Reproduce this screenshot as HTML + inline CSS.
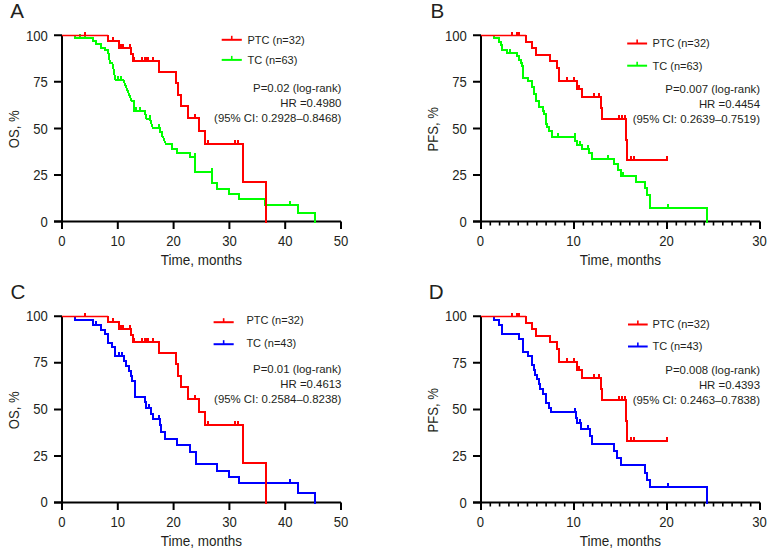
<!DOCTYPE html>
<html><head><meta charset="utf-8"><title>Kaplan-Meier curves</title>
<style>
html,body{margin:0;padding:0;background:#fff;}
body{width:775px;height:552px;overflow:hidden;position:relative;}
svg{position:absolute;left:0;top:0;}
text{font-family:"Liberation Sans",sans-serif;fill:#231f20;}
</style></head><body>
<svg width="775" height="552" viewBox="0 0 775 552">
<path d="M62 35.3V221.5M54 221.5H341" stroke="#000" stroke-width="2.0" fill="none" stroke-linecap="butt"/>
<path d="M54 35.3H62M54 81.85H62M54 128.39999999999998H62M54 174.95H62M54 221.5H62M62.0 221.5V229.0M117.8 221.5V229.0M173.6 221.5V229.0M229.4 221.5V229.0M285.2 221.5V229.0M341.0 221.5V229.0" stroke="#000" stroke-width="2.0" fill="none"/>
<text transform="translate(47.8 40.8) scale(0.95 1)" font-size="13.8" text-anchor="end" >100</text>
<text transform="translate(47.8 87.35) scale(0.95 1)" font-size="13.8" text-anchor="end" >75</text>
<text transform="translate(47.8 133.9) scale(0.95 1)" font-size="13.8" text-anchor="end" >50</text>
<text transform="translate(47.8 180.45) scale(0.95 1)" font-size="13.8" text-anchor="end" >25</text>
<text transform="translate(47.8 227.0) scale(0.95 1)" font-size="13.8" text-anchor="end" >0</text>
<text transform="translate(62.0 246.3) scale(0.95 1)" font-size="13.8" text-anchor="middle" >0</text>
<text transform="translate(117.8 246.3) scale(0.95 1)" font-size="13.8" text-anchor="middle" >10</text>
<text transform="translate(173.6 246.3) scale(0.95 1)" font-size="13.8" text-anchor="middle" >20</text>
<text transform="translate(229.4 246.3) scale(0.95 1)" font-size="13.8" text-anchor="middle" >30</text>
<text transform="translate(285.2 246.3) scale(0.95 1)" font-size="13.8" text-anchor="middle" >40</text>
<text transform="translate(341.0 246.3) scale(0.95 1)" font-size="13.8" text-anchor="middle" >50</text>
<text transform="translate(201.5 264.5) scale(0.964 1)" font-size="14" text-anchor="middle" >Time, months</text>
<text x="0" y="0" font-size="14.4" text-anchor="middle" transform="translate(18.5 129.3) rotate(-90) scale(0.91 1)">OS, %</text>
<text x="10.3" y="17.7" font-size="20.6" text-anchor="start" fill="#000">A</text>
<path d="M221.7 39.8H241.8" stroke="#ff0000" stroke-width="2" fill="none"/>
<path d="M221.7 59.9H241.8" stroke="#00ff00" stroke-width="2" fill="none"/>
<path d="M231.75 39.8V35.8" stroke="#ff0000" stroke-width="1.6" fill="none"/>
<path d="M231.75 59.9V55.9" stroke="#00ff00" stroke-width="1.6" fill="none"/>
<text x="247.5" y="43.599999999999994" font-size="11" text-anchor="start" >PTC (n=32)</text>
<text x="247.5" y="64.1" font-size="11" text-anchor="start" >TC (n=63)</text>
<text transform="translate(341.4 92.0) scale(0.966 1)" font-size="11.8" text-anchor="end" >P=0.02 (log-rank)</text>
<text transform="translate(341.4 106.95) scale(0.966 1)" font-size="11.8" text-anchor="end" >HR =0.4980</text>
<text transform="translate(341.4 122.4) scale(0.966 1)" font-size="11.8" text-anchor="end" >(95% CI: 0.2928–0.8468)</text>
<path d="M74.5 35.5V38.2H92.9V41.2H95.8V44.4H101.0V47.5H105.0V50.3H108.0L110.0 62.7H112.3L115.5 80.0H123.3L131.7 100.8H134.4V111.2H144.8L146.5 119.0H150.0L152.7 127.6H160.3V131.6H161.6V136.1H162.6L166.0 144.3H171.7V148.8H177.4V153.0H190.1V157.0H195.2V171.8H211.5V182.6H216.7V188.5H228.9V194.1H238.9V199.3H265.2V204.8H297.7V213.2H315.1V221.5" stroke="#00ff00" stroke-width="2.0" fill="none" stroke-linejoin="miter" stroke-linecap="square" shape-rendering="crispEdges"/>
<path d="M79.5 38.2V34.2M85.4 38.2V34.2M117.5 80.0V76.0M120.8 80.0V76.0M136.2 111.2V107.2M139.9 111.2V107.2M149.5 119.0V115.0M158.8 127.6V123.6M195.2 157.0V153.0M211.5 171.8V167.8M289.8 204.8V200.8" stroke="#00ff00" stroke-width="2" fill="none" shape-rendering="crispEdges"/>
<path d="M62 35.5H108.0" stroke="#ff0000" stroke-width="1.5" fill="none"/>
<path d="M108.0 35.5V41.4H119.2V47.6H130.9V54.3H132.7V61.2H158.9V71.8H175.5V83.4H177.6V94.8H180.9V106.2H188.4V117.8H199.1V130.9H205.4V143.9H243.0V182.3H265.5V221.5" stroke="#ff0000" stroke-width="2.0" fill="none" stroke-linejoin="miter" stroke-linecap="square" shape-rendering="crispEdges"/>
<path d="M84.5 35.5V31.5M112.9 41.4V37.4M120.5 47.6V43.6M122.9 47.6V43.6M129.9 47.6V43.6M133.6 61.2V57.2M141.7 61.2V57.2M144.9 61.2V57.2M146.6 61.2V57.2M148.2 61.2V57.2M153.1 61.2V57.2M194.5 117.8V113.8M208.2 143.9V139.9M235 143.9V139.9M237.6 143.9V139.9" stroke="#ff0000" stroke-width="2" fill="none" shape-rendering="crispEdges"/>
<path d="M481 35.3V221.5M473 221.5H760" stroke="#000" stroke-width="2.0" fill="none" stroke-linecap="butt"/>
<path d="M473 35.3H481M473 81.85H481M473 128.39999999999998H481M473 174.95H481M473 221.5H481M481.0 221.5V229.0M574.0 221.5V229.0M667.0 221.5V229.0M760.0 221.5V229.0" stroke="#000" stroke-width="2.0" fill="none"/>
<path d="M490.3 221.5V225.5M499.6 221.5V225.5M508.9 221.5V225.5M518.2 221.5V225.5M527.5 221.5V225.5M536.8 221.5V225.5M546.1 221.5V225.5M555.4 221.5V225.5M564.7 221.5V225.5M583.3 221.5V225.5M592.6 221.5V225.5M601.9 221.5V225.5M611.2 221.5V225.5M620.5 221.5V225.5M629.8 221.5V225.5M639.1 221.5V225.5M648.4 221.5V225.5M657.7 221.5V225.5M676.3 221.5V225.5M685.6 221.5V225.5M694.9 221.5V225.5M704.2 221.5V225.5M713.5 221.5V225.5M722.8 221.5V225.5M732.1 221.5V225.5M741.4 221.5V225.5M750.7 221.5V225.5" stroke="#000" stroke-width="1.6" fill="none"/>
<text transform="translate(466.8 40.8) scale(0.95 1)" font-size="13.8" text-anchor="end" >100</text>
<text transform="translate(466.8 87.35) scale(0.95 1)" font-size="13.8" text-anchor="end" >75</text>
<text transform="translate(466.8 133.9) scale(0.95 1)" font-size="13.8" text-anchor="end" >50</text>
<text transform="translate(466.8 180.45) scale(0.95 1)" font-size="13.8" text-anchor="end" >25</text>
<text transform="translate(466.8 227.0) scale(0.95 1)" font-size="13.8" text-anchor="end" >0</text>
<text transform="translate(480.4 246.3) scale(0.95 1)" font-size="13.8" text-anchor="middle" >0</text>
<text transform="translate(573.4 246.3) scale(0.95 1)" font-size="13.8" text-anchor="middle" >10</text>
<text transform="translate(666.4 246.3) scale(0.95 1)" font-size="13.8" text-anchor="middle" >20</text>
<text transform="translate(759.4 246.3) scale(0.95 1)" font-size="13.8" text-anchor="middle" >30</text>
<text transform="translate(620.5 264.5) scale(0.964 1)" font-size="14" text-anchor="middle" >Time, months</text>
<text x="0" y="0" font-size="14.4" text-anchor="middle" transform="translate(437.5 129.3) rotate(-90) scale(0.91 1)">PFS, %</text>
<text x="430.6" y="17.7" font-size="20.6" text-anchor="start" fill="#000">B</text>
<path d="M627.2 43.5H647.1" stroke="#ff0000" stroke-width="2" fill="none"/>
<path d="M627.2 65.7H647.1" stroke="#00ff00" stroke-width="2" fill="none"/>
<path d="M637.1500000000001 43.5V39.5" stroke="#ff0000" stroke-width="1.6" fill="none"/>
<path d="M637.1500000000001 65.7V61.7" stroke="#00ff00" stroke-width="1.6" fill="none"/>
<text x="652.5" y="47.3" font-size="11" text-anchor="start" >PTC (n=32)</text>
<text x="652.5" y="69.60000000000001" font-size="11" text-anchor="start" >TC (n=63)</text>
<text transform="translate(760 92.8) scale(0.966 1)" font-size="11.8" text-anchor="end" >P=0.007 (log-rank)</text>
<text transform="translate(760 107.75) scale(0.966 1)" font-size="11.8" text-anchor="end" >HR =0.4454</text>
<text transform="translate(760 123.2) scale(0.966 1)" font-size="11.8" text-anchor="end" >(95% CI: 0.2639–0.7519)</text>
<path d="M494.3 35.5V38.2H499.3V41.8H501.1V44.5H502.0V50.4H506.6V53.1H517.0V56.3H518.8V59.9H520.6V62.6H522.0V65.8H523.3V77.8H528.1V80.8H531.8V87.2H533.6V93.5H536.3V100.8H539.1V107.1H542.9V110.9H544.0V114.1H546.2V123.9H547.0V126.6H549.4V131.0H551.6V137.0H575.0V141.3H577.1V144.6H581.5V148.9H589.1V153.3H591.8V158.6H613.8V164.2H617.5V169.9H621.3V175.5H636.0V181.9H644.5V188.3H646.9V195.1H650.1V207.5H706.9V221.5" stroke="#00ff00" stroke-width="2.0" fill="none" stroke-linejoin="miter" stroke-linecap="square" shape-rendering="crispEdges"/>
<path d="M510.2 53.1V49.1M557.6 137.0V133.0M575 137.0V133.0M579.8 144.6V140.6M588 148.9V144.9M608.1 158.6V154.6M622.5 175.5V171.5M667.5 207.5V203.5" stroke="#00ff00" stroke-width="2" fill="none" shape-rendering="crispEdges"/>
<path d="M481 35.5H526.0" stroke="#ff0000" stroke-width="1.5" fill="none"/>
<path d="M526.0 35.5V41.6H532.0V47.9H535.8V54.6H550.3V61.2H557.0V67.9H558.9V81.3H576.6V89.0H582.0V96.9H600.8V107.6H602.4V119.0H625.5V139.9H627.3V160.0H666.9" stroke="#ff0000" stroke-width="2.0" fill="none" stroke-linejoin="miter" stroke-linecap="square" shape-rendering="crispEdges"/>
<path d="M512.4 35.5V31.5M517 35.5V31.5M519.2 35.5V31.5M566.6 81.3V77.3M574.3 81.3V77.3M579.3 89.0V85.0M594 96.9V92.9M598.7 96.9V92.9M619.4 119.0V115.0M622.1 119.0V115.0M624.8 119.0V115.0M630.5 160.0V156.0M633.8 160.0V156.0M666.9 160.0V156.0" stroke="#ff0000" stroke-width="2" fill="none" shape-rendering="crispEdges"/>
<path d="M62 316.3V502.5M54 502.5H341" stroke="#000" stroke-width="2.0" fill="none" stroke-linecap="butt"/>
<path d="M54 316.3H62M54 362.85H62M54 409.4H62M54 455.95H62M54 502.5H62M62.0 502.5V510.0M117.8 502.5V510.0M173.6 502.5V510.0M229.4 502.5V510.0M285.2 502.5V510.0M341.0 502.5V510.0" stroke="#000" stroke-width="2.0" fill="none"/>
<text transform="translate(47.8 320.9) scale(0.95 1)" font-size="13.8" text-anchor="end" >100</text>
<text transform="translate(47.8 367.45) scale(0.95 1)" font-size="13.8" text-anchor="end" >75</text>
<text transform="translate(47.8 414.0) scale(0.95 1)" font-size="13.8" text-anchor="end" >50</text>
<text transform="translate(47.8 460.55) scale(0.95 1)" font-size="13.8" text-anchor="end" >25</text>
<text transform="translate(47.8 507.1) scale(0.95 1)" font-size="13.8" text-anchor="end" >0</text>
<text transform="translate(62.0 526.7) scale(0.95 1)" font-size="13.8" text-anchor="middle" >0</text>
<text transform="translate(117.8 526.7) scale(0.95 1)" font-size="13.8" text-anchor="middle" >10</text>
<text transform="translate(173.6 526.7) scale(0.95 1)" font-size="13.8" text-anchor="middle" >20</text>
<text transform="translate(229.4 526.7) scale(0.95 1)" font-size="13.8" text-anchor="middle" >30</text>
<text transform="translate(285.2 526.7) scale(0.95 1)" font-size="13.8" text-anchor="middle" >40</text>
<text transform="translate(341.0 526.7) scale(0.95 1)" font-size="13.8" text-anchor="middle" >50</text>
<text transform="translate(201.5 545.5) scale(0.964 1)" font-size="14" text-anchor="middle" >Time, months</text>
<text x="0" y="0" font-size="14.4" text-anchor="middle" transform="translate(18.5 410.29999999999995) rotate(-90) scale(0.91 1)">OS, %</text>
<text x="10.6" y="298.6" font-size="20.6" text-anchor="start" fill="#000">C</text>
<path d="M213.6 322.2H233.7" stroke="#ff0000" stroke-width="2" fill="none"/>
<path d="M213.6 344.2H233.7" stroke="#0000ff" stroke-width="2" fill="none"/>
<path d="M223.64999999999998 322.2V318.2" stroke="#ff0000" stroke-width="1.6" fill="none"/>
<path d="M223.64999999999998 344.2V340.2" stroke="#0000ff" stroke-width="1.6" fill="none"/>
<text x="246.4" y="324.2" font-size="11" text-anchor="start" >PTC (n=32)</text>
<text x="246.4" y="347.3" font-size="11" text-anchor="start" >TC (n=43)</text>
<text transform="translate(341.4 373.0) scale(0.966 1)" font-size="11.8" text-anchor="end" >P=0.01 (log-rank)</text>
<text transform="translate(341.4 387.95) scale(0.966 1)" font-size="11.8" text-anchor="end" >HR =0.4613</text>
<text transform="translate(341.4 403.4) scale(0.966 1)" font-size="11.8" text-anchor="end" >(95% CI: 0.2584–0.8238)</text>
<path d="M74.9 316.5V320.4H93.1V324.5H101.2V329.5H104.8V334.0H108.0V342.6H112.1V347.1H115.2V356.3H123.6V360.9H126.3V365.9H129.0V371.3H130.8V376.3H132.2V380.8H134.5V391.7H135.4V396.7H145.0V402.2H146.3V407.7H150.9V413.6H152.7V419.4H160.4V425.3H161.3V432.4H165.3V438.5H177.3V445.0H190.0V451.5H195.5V463.9H216.7V470.6H229.1V476.8H238.9V483.4H298.0V493.0H314.9V502.5" stroke="#0000ff" stroke-width="2.0" fill="none" stroke-linejoin="miter" stroke-linecap="square" shape-rendering="crispEdges"/>
<path d="M95.8 324.5V320.5M119.3 356.3V352.3M121.6 356.3V352.3M149.1 407.7V403.7M158.6 419.4V415.4M290.1 483.4V479.4" stroke="#0000ff" stroke-width="2" fill="none" shape-rendering="crispEdges"/>
<path d="M62 316.5H108.0" stroke="#ff0000" stroke-width="1.5" fill="none"/>
<path d="M108.0 316.5V322.4H119.2V328.6H130.9V335.3H132.7V342.2H158.9V352.8H175.5V364.4H177.6V375.8H180.9V387.2H188.4V398.8H199.1V411.9H205.4V424.9H243.0V463.3H265.5V502.5" stroke="#ff0000" stroke-width="2.0" fill="none" stroke-linejoin="miter" stroke-linecap="square" shape-rendering="crispEdges"/>
<path d="M84.5 316.5V312.5M112.9 322.4V318.4M120.5 328.6V324.6M122.9 328.6V324.6M129.9 328.6V324.6M133.6 342.2V338.2M141.7 342.2V338.2M144.9 342.2V338.2M146.6 342.2V338.2M148.2 342.2V338.2M153.1 342.2V338.2M194.5 398.8V394.8M208.2 424.9V420.9M235 424.9V420.9M237.6 424.9V420.9" stroke="#ff0000" stroke-width="2" fill="none" shape-rendering="crispEdges"/>
<path d="M481 316.3V502.5M473 502.5H760" stroke="#000" stroke-width="2.0" fill="none" stroke-linecap="butt"/>
<path d="M473 316.3H481M473 362.85H481M473 409.4H481M473 455.95H481M473 502.5H481M481.0 502.5V510.0M574.0 502.5V510.0M667.0 502.5V510.0M760.0 502.5V510.0" stroke="#000" stroke-width="2.0" fill="none"/>
<path d="M490.3 502.5V506.5M499.6 502.5V506.5M508.9 502.5V506.5M518.2 502.5V506.5M527.5 502.5V506.5M536.8 502.5V506.5M546.1 502.5V506.5M555.4 502.5V506.5M564.7 502.5V506.5M583.3 502.5V506.5M592.6 502.5V506.5M601.9 502.5V506.5M611.2 502.5V506.5M620.5 502.5V506.5M629.8 502.5V506.5M639.1 502.5V506.5M648.4 502.5V506.5M657.7 502.5V506.5M676.3 502.5V506.5M685.6 502.5V506.5M694.9 502.5V506.5M704.2 502.5V506.5M713.5 502.5V506.5M722.8 502.5V506.5M732.1 502.5V506.5M741.4 502.5V506.5M750.7 502.5V506.5" stroke="#000" stroke-width="1.6" fill="none"/>
<text transform="translate(466.8 321.3) scale(0.95 1)" font-size="13.8" text-anchor="end" >100</text>
<text transform="translate(466.8 367.85) scale(0.95 1)" font-size="13.8" text-anchor="end" >75</text>
<text transform="translate(466.8 414.4) scale(0.95 1)" font-size="13.8" text-anchor="end" >50</text>
<text transform="translate(466.8 460.95) scale(0.95 1)" font-size="13.8" text-anchor="end" >25</text>
<text transform="translate(466.8 507.5) scale(0.95 1)" font-size="13.8" text-anchor="end" >0</text>
<text transform="translate(480.4 526.7) scale(0.95 1)" font-size="13.8" text-anchor="middle" >0</text>
<text transform="translate(573.4 526.7) scale(0.95 1)" font-size="13.8" text-anchor="middle" >10</text>
<text transform="translate(666.4 526.7) scale(0.95 1)" font-size="13.8" text-anchor="middle" >20</text>
<text transform="translate(759.4 526.7) scale(0.95 1)" font-size="13.8" text-anchor="middle" >30</text>
<text transform="translate(620.5 545.5) scale(0.964 1)" font-size="14" text-anchor="middle" >Time, months</text>
<text x="0" y="0" font-size="14.4" text-anchor="middle" transform="translate(437.5 410.29999999999995) rotate(-90) scale(0.91 1)">PFS, %</text>
<text x="428.8" y="298.6" font-size="20.6" text-anchor="start" fill="#000">D</text>
<path d="M628 324.5H647.7" stroke="#ff0000" stroke-width="2" fill="none"/>
<path d="M628 346.5H647.7" stroke="#0000ff" stroke-width="2" fill="none"/>
<path d="M637.85 324.5V320.5" stroke="#ff0000" stroke-width="1.6" fill="none"/>
<path d="M637.85 346.5V342.5" stroke="#0000ff" stroke-width="1.6" fill="none"/>
<text x="652.5" y="327.7" font-size="11" text-anchor="start" >PTC (n=32)</text>
<text x="652.5" y="350.1" font-size="11" text-anchor="start" >TC (n=43)</text>
<text transform="translate(760 373.8) scale(0.966 1)" font-size="11.8" text-anchor="end" >P=0.008 (log-rank)</text>
<text transform="translate(760 388.75) scale(0.966 1)" font-size="11.8" text-anchor="end" >HR =0.4393</text>
<text transform="translate(760 404.2) scale(0.966 1)" font-size="11.8" text-anchor="end" >(95% CI: 0.2463–0.7838)</text>
<path d="M494.3 316.5V320.4H499.3V325.4H501.6V329.5H502.2V334.0H519.2V338.5H523.3V351.8H528.2V355.9H531.8V365.4H533.6V369.9H534.9V374.9H536.7V379.4H538.6V384.4H539.6V388.8H543.2V394.1H545.9V402.8H549.1V407.7H551.3V412.1H575.8V417.5H576.8V422.9H581.2V429.0H589.8V436.0H591.9V443.5H613.5V450.7H616.9V458.3H620.6V465.3H644.6V472.9H647.1V479.6H650.4V487.4H706.6V502.5" stroke="#0000ff" stroke-width="2.0" fill="none" stroke-linejoin="miter" stroke-linecap="square" shape-rendering="crispEdges"/>
<path d="M574.7 412.1V408.1M580.1 422.9V418.9M588 429.0V425.0M667.6 487.4V483.4" stroke="#0000ff" stroke-width="2" fill="none" shape-rendering="crispEdges"/>
<path d="M481 316.5H526.0" stroke="#ff0000" stroke-width="1.5" fill="none"/>
<path d="M526.0 316.5V322.6H532.0V328.9H535.8V335.6H550.3V342.2H557.0V348.9H558.9V362.3H576.6V370.0H582.0V377.9H600.8V388.6H602.4V400.0H625.5V420.9H627.3V441.0H666.9" stroke="#ff0000" stroke-width="2.0" fill="none" stroke-linejoin="miter" stroke-linecap="square" shape-rendering="crispEdges"/>
<path d="M512.4 316.5V312.5M517 316.5V312.5M519.2 316.5V312.5M566.6 362.3V358.3M574.3 362.3V358.3M579.3 370.0V366.0M594 377.9V373.9M598.7 377.9V373.9M619.4 400.0V396.0M622.1 400.0V396.0M624.8 400.0V396.0M630.5 441.0V437.0M633.8 441.0V437.0M666.9 441.0V437.0" stroke="#ff0000" stroke-width="2" fill="none" shape-rendering="crispEdges"/>
</svg>
</body></html>
